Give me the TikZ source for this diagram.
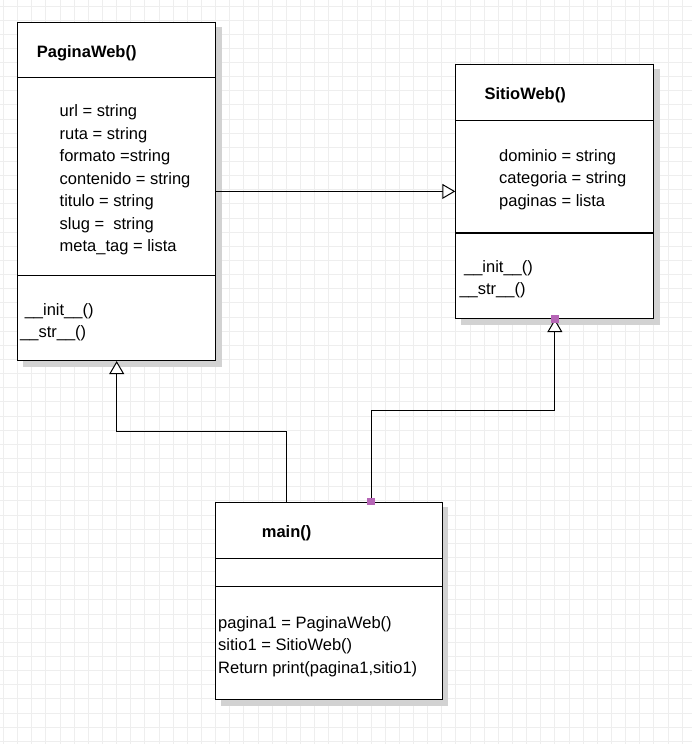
\documentclass[tikz,border=0pt]{standalone}
\usepackage{fontspec}
\setmainfont{Liberation Sans}
\usetikzlibrary{arrows.meta,backgrounds}
\definecolor{gridc}{RGB}{238,238,238}
\definecolor{shadowc}{RGB}{210,210,210}
\definecolor{handlec}{RGB}{182,102,182}
\begin{document}
\begin{tikzpicture}[x=1pt,y=-1pt,
  umlbox/.style={draw=black, line width=1.1pt, fill=white, inner sep=0, anchor=north west},
  divider/.style={draw=black, line width=1.1pt},
  shadowfill/.style={fill=shadowc},
  gridline/.style={draw=gridc, line width=1pt},
  txt/.style={anchor=base west, inner sep=0, font=\fontsize{16.5}{22.5}\selectfont},
  ttl/.style={txt, font=\fontsize{16.5}{22.5}\selectfont\bfseries},
  inh/.style={draw=black, line width=1pt, -{Triangle[open, fill=white, length=13pt, width=15pt]}},
  handle/.style={fill=handlec, draw=none, minimum size=7.5pt, inner sep=0}]
\useasboundingbox (0,0) rectangle (692,744);

% boxes
\node[umlbox, minimum width=197.7pt, minimum height=338.3pt] (pw) at (17.3,21.7) {};
\node[umlbox, minimum width=198pt, minimum height=254.3pt] (sw) at (455.3,63.7) {};
\node[umlbox, minimum width=226.4pt, minimum height=197.6pt] (mn) at (215.3,501.7) {};

% background: grid and shadows
\begin{pgfonlayer}{background}
\fill[white] (0,0) rectangle (692,744);
\foreach \i in {0,...,48} \draw[gridline] ({3.5+\i*14.14},0) -- ({3.5+\i*14.14},744);
\foreach \j in {0,...,52} \draw[gridline] (0,{6+\j*14.14}) -- (692,{6+\j*14.14});
\foreach \b in {pw,sw,mn}
  \fill[shadowfill] ([shift={(5.5,5.5)}]\b.north west) rectangle ([shift={(5.5,5.5)}]\b.south east);
\end{pgfonlayer}

% dividers
\draw[divider] (17.3,77.3) -- (215,77.3);
\draw[divider] (17.3,275.3) -- (215,275.3);
\draw[divider] (455.3,120.3) -- (653.3,120.3);
\draw[divider] (455.3,233) -- (653.3,233);
\draw[divider] (215.3,558.7) -- (441.7,558.7);
\draw[divider] (215.3,586.7) -- (441.7,586.7);

% PaginaWeb texts
\node[ttl] (pwt) at (36.7,57.3) {PaginaWeb()};
\node[txt] (pwa1) at (59.5,116.7) {url = string};
\node[txt] (pwa2) at (59.5,139.2) {ruta = string};
\node[txt] (pwa3) at (59.5,161.7) {formato =string};
\node[txt] (pwa4) at (59.5,184.2) {contenido = string};
\node[txt] (pwa5) at (59.5,206.7) {titulo = string};
\node[txt] (pwa6) at (59.5,229.2) {slug = \ string};
\node[txt] (pwa7) at (59.5,251.7) {meta\_tag = lista};
\node[txt] (pwm1) at (20,315) {\ \_\_init\_\_()};
\node[txt] (pwm2) at (20,337.5) {\_\_str\_\_()};

% SitioWeb texts
\node[ttl] (swt) at (484.3,99) {SitioWeb()};
\node[txt] (swa1) at (499,161) {dominio = string};
\node[txt] (swa2) at (499,183.5) {categoria = string};
\node[txt] (swa3) at (499,206) {paginas = lista};
\node[txt] (swm1) at (459.3,272.3) {\ \_\_init\_\_()};
\node[txt] (swm2) at (459.3,294.8) {\_\_str\_\_()};

% main texts
\node[ttl] (mnt) at (261.7,537.3) {main()};
\node[txt] (mnl1) at (218,628.3) {pagina1 = PaginaWeb()};
\node[txt] (mnl2) at (218,650.8) {sitio1 = SitioWeb()};
\node[txt] (mnl3) at (218,673.3) {Return print(pagina1,sitio1)};

% connectors
\coordinate (m1) at (286.7,501.7);
\coordinate (k1) at (116.5,431);
\coordinate (m2) at (371,501.7);
\coordinate (k2) at (555,410.3);
\draw[inh] (pw.east) -- (sw.west);
\draw[inh] (m1) -- (m1 |- k1) -| (pw.south);
\draw[inh] (m2) -- (m2 |- k2) -| (sw.south);

% handles
\node[handle] (h1) at (m2) {};
\node[handle] (h2) at (sw.south) {};
\end{tikzpicture}
\end{document}
